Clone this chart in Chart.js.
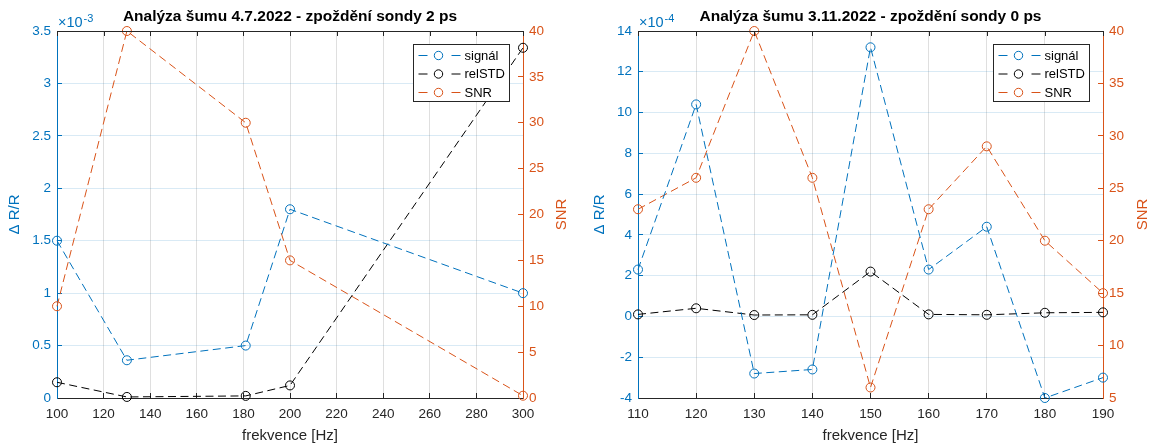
<!DOCTYPE html>
<html>
<head>
<meta charset="utf-8">
<script src="https://cdn.jsdelivr.net/npm/chart.js@4.4.1/dist/chart.umd.min.js"></script>
<style>
  html, body { margin: 0; padding: 0; background: #fff; }
  #wrap { display: flex; width: 1154px; height: 445px; }
  canvas { display: block; }
</style>
</head>
<body>
<div id="wrap">
  <canvas id="chartJuly" width="577" height="445"></canvas>
  <canvas id="chartNov" width="577" height="445"></canvas>
</div>
<script>
// 4.7.2022 - delay 2 ps (signal + relSTD in units of 1e-3)
const julyFreq = [100, 130, 181, 200, 300];
const julySignal = [1.5, 0.36, 0.5, 1.8, 1.0];
const julyRelStd = [0.15, 0.01, 0.02, 0.12, 3.34];
const julySnr = [10, 40, 30, 15, 0.25];
const julyXTicks = [100, 120, 140, 160, 180, 200, 220, 240, 260, 280, 300];
const julyLeftTicks = [0, 0.5, 1, 1.5, 2, 2.5, 3, 3.5];
const julyRightTicks = [0, 5, 10, 15, 20, 25, 30, 35, 40];

// 3.11.2022 - delay 0 ps (signal + relSTD in units of 1e-4)
const novFreq = [110, 120, 130, 140, 150, 160, 170, 180, 190];
const novSignal = [2.3, 10.4, -2.8, -2.6, 13.2, 2.3, 4.4, -4.0, -3.0];
const novRelStd = [0.1, 0.4, 0.07, 0.08, 2.2, 0.1, 0.08, 0.18, 0.2];
const novSnr = [23, 26, 40, 26, 6, 23, 29, 20, 15];
const novXTicks = [110, 120, 130, 140, 150, 160, 170, 180, 190];
const novLeftTicks = [-4, -2, 0, 2, 4, 6, 8, 10, 12, 14];
const novRightTicks = [5, 10, 15, 20, 25, 30, 35, 40];

const BLUE = '#0072BD';
const ORANGE = '#D95319';
const DARK = '#262626';
const FONT = '"Liberation Sans", Arial, Helvetica, sans-serif';

Chart.defaults.font.family = FONT;

function series(label, xs, ys, color, axis) {
  return {
    label: label,
    data: xs.map((x, i) => ({ x: x, y: ys[i] })),
    yAxisID: axis,
    borderColor: color,
    backgroundColor: 'transparent',
    borderWidth: 1,
    borderDash: [8, 4.5],
    pointStyle: 'circle',
    pointRadius: 4.5,
    pointHoverRadius: 4.5,
    pointBorderWidth: 1,
    pointBorderColor: color,
    pointBackgroundColor: 'transparent',
    tension: 0,
    fill: false,
    clip: false
  };
}

// box top line, exponent, right axis title and the legend
const decorPlugin = {
  id: 'decor',
  afterDraw(chart, args, opts) {
    const ctx = chart.ctx;
    const a = chart.chartArea;
    const xs = chart.scales.x;
    ctx.save();
    ctx.strokeStyle = DARK;
    ctx.lineWidth = 1;
    ctx.setLineDash([]);
    ctx.beginPath();
    ctx.moveTo(a.left, Math.round(a.top) + 0.5);
    ctx.lineTo(a.right, Math.round(a.top) + 0.5);
    ctx.stroke();
    xs.ticks.forEach(t => {
      const px = Math.round(xs.getPixelForValue(t.value)) + 0.5;
      ctx.beginPath();
      ctx.moveTo(px, a.top);
      ctx.lineTo(px, a.top + 5);
      ctx.stroke();
    });

    // x10^n
    ctx.fillStyle = BLUE;
    ctx.textAlign = 'left';
    ctx.textBaseline = 'alphabetic';
    ctx.font = '14.5px ' + FONT;
    ctx.fillText('×10', a.left + 1, a.top - 4);
    const w = ctx.measureText('×10').width;
    ctx.font = '11px ' + FONT;
    ctx.fillText(opts.exponent, a.left + 2 + w, a.top - 9);

    // SNR title (reads bottom to top like MATLAB)
    const ry = chart.scales.ySnr;
    ctx.save();
    ctx.translate(ry.right - opts.snrOffset, (a.top + a.bottom) / 2);
    ctx.rotate(-Math.PI / 2);
    ctx.font = '15px ' + FONT;
    ctx.fillStyle = ORANGE;
    ctx.textAlign = 'center';
    ctx.textBaseline = 'middle';
    ctx.fillText('SNR', 0, 0);
    ctx.restore();

    // legend
    const bw = 96, bh = 57;
    const bx = Math.round(a.right - 14 - bw) + 0.5;
    const by = Math.round(a.top + 13) + 0.5;
    ctx.fillStyle = '#fff';
    ctx.fillRect(bx, by, bw, bh);
    ctx.strokeStyle = DARK;
    ctx.strokeRect(bx, by, bw, bh);
    chart.data.datasets.forEach((ds, i) => {
      const y = by + 11 + i * 18.5;
      ctx.strokeStyle = ds.borderColor;
      ctx.beginPath();
      ctx.moveTo(bx + 5, y);
      ctx.lineTo(bx + 14, y);
      ctx.moveTo(bx + 38, y);
      ctx.lineTo(bx + 47, y);
      ctx.stroke();
      ctx.beginPath();
      ctx.arc(bx + 25, y, 4.2, 0, Math.PI * 2);
      ctx.stroke();
      ctx.fillStyle = '#000';
      ctx.font = '13px ' + FONT;
      ctx.textAlign = 'left';
      ctx.textBaseline = 'middle';
      ctx.fillText(ds.label, bx + 51, y + 0.5);
    });
    ctx.restore();
  }
};

function makeChart(id, cfg) {
  const ctx = document.getElementById(id).getContext('2d');
  const setTicks = arr => scale => { scale.ticks = arr.map(v => ({ value: v })); };
  return new Chart(ctx, {
    type: 'line',
    data: {
      datasets: [
        series('signál', cfg.freq, cfg.signal, BLUE, 'y'),
        series('relSTD', cfg.freq, cfg.relStd, '#000000', 'y'),
        series('SNR', cfg.freq, cfg.snr, ORANGE, 'ySnr')
      ]
    },
    options: {
      responsive: false,
      animation: false,
      events: [],
      layout: { padding: { left: cfg.padLeft, right: 0, top: 0, bottom: 0 } },
      scales: {
        x: {
          type: 'linear',
          position: 'bottom',
          min: cfg.xTicks[0],
          max: cfg.xTicks[cfg.xTicks.length - 1],
          afterBuildTicks: setTicks(cfg.xTicks),
          afterFit: s => { s.height = 47; },
          grid: { color: 'rgba(38,38,38,0.15)', tickColor: DARK, tickLength: -5, drawTicks: true },
          border: { color: DARK, width: 1 },
          ticks: { color: DARK, font: { size: 13.5 }, padding: 13, maxRotation: 0, autoSkip: false, callback: v => String(v) },
          title: { display: true, text: 'frekvence [Hz]', color: DARK, font: { size: 15 }, padding: { top: 0, bottom: 0 } }
        },
        y: {
          type: 'linear',
          position: 'left',
          min: cfg.leftTicks[0],
          max: cfg.leftTicks[cfg.leftTicks.length - 1],
          afterBuildTicks: setTicks(cfg.leftTicks),
          afterFit: s => { s.width = cfg.leftWidth; },
          grid: { color: 'rgba(0,114,189,0.15)', tickColor: BLUE, tickLength: -5, drawTicks: true },
          border: { color: BLUE, width: 1 },
          ticks: { color: BLUE, font: { size: 13.5 }, padding: 11, autoSkip: false, callback: v => String(v) },
          title: { display: true, text: 'Δ R/R', color: BLUE, font: { size: 15 }, padding: { top: cfg.leftTitlePad, bottom: 0 } }
        },
        ySnr: {
          type: 'linear',
          position: 'right',
          min: cfg.rightTicks[0],
          max: cfg.rightTicks[cfg.rightTicks.length - 1],
          afterBuildTicks: setTicks(cfg.rightTicks),
          afterFit: s => { s.width = cfg.rightWidth; },
          grid: { drawOnChartArea: false, tickColor: ORANGE, tickLength: -5, drawTicks: true },
          border: { color: ORANGE, width: 1 },
          ticks: { color: ORANGE, font: { size: 13.5 }, padding: 11, autoSkip: false, callback: v => String(v) },
          title: { display: false }
        }
      },
      plugins: {
        legend: { display: false },
        tooltip: { enabled: false },
        title: {
          display: true,
          text: cfg.title,
          color: '#000',
          font: { size: 15.5, weight: 'bold' },
          padding: { top: 7, bottom: 5.4 }
        },
        decor: { exponent: cfg.exponent, snrOffset: cfg.snrOffset }
      }
    },
    plugins: [decorPlugin]
  });
}

makeChart('chartJuly', {
  title: 'Analýza šumu 4.7.2022 - zpoždění sondy 2 ps',
  freq: julyFreq, signal: julySignal, relStd: julyRelStd, snr: julySnr,
  xTicks: julyXTicks, leftTicks: julyLeftTicks, rightTicks: julyRightTicks,
  exponent: '-3', padLeft: 3, leftWidth: 54, rightWidth: 54, leftTitlePad: 3, snrOffset: 15
});

makeChart('chartNov', {
  title: 'Analýza šumu 3.11.2022 - zpoždění sondy 0 ps',
  freq: novFreq, signal: novSignal, relStd: novRelStd, snr: novSnr,
  xTicks: novXTicks, leftTicks: novLeftTicks, rightTicks: novRightTicks,
  exponent: '-4', padLeft: 10, leftWidth: 51, rightWidth: 51, leftTitlePad: 4, snrOffset: 11
});
</script>
</body>
</html>
